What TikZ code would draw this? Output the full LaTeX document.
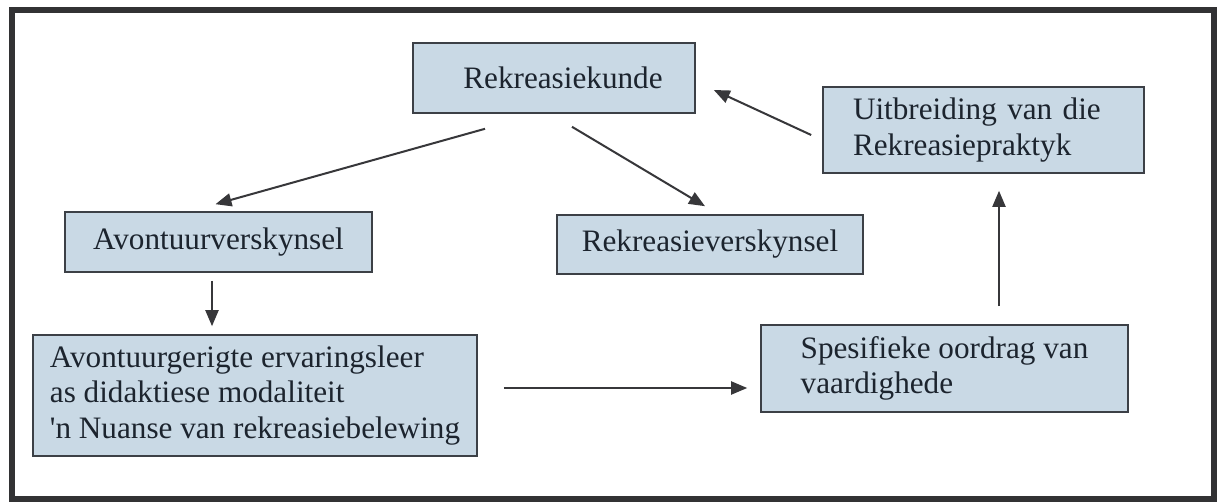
\documentclass[tikz,border=0pt]{standalone}
\usepackage{fontspec}
\setmainfont{Liberation Serif}
\usetikzlibrary{arrows.meta,calc}
\definecolor{boxfill}{RGB}{201,217,229}
\definecolor{boxline}{RGB}{60,64,70}
\definecolor{ink}{RGB}{28,36,46}
\definecolor{arrowcol}{RGB}{55,55,58}
\definecolor{framecol}{RGB}{50,50,52}
\begin{document}
\begin{tikzpicture}[x=0.5pt,y=-0.5pt,
  conceptbox/.style={draw=boxline,line width=0.8pt,fill=boxfill,text=ink,
    inner sep=0pt,align=left,
    font=\fontsize{15.6pt}{17.8pt}\selectfont},
  arr/.style={draw=arrowcol,line width=1pt,-{Triangle[length=8pt,width=6.5pt]}}]
  \useasboundingbox (0,0) rectangle (1220,502);
  \fill[white] (0,0) rectangle (1220,502);
  % outer frame
  \draw[framecol,line width=3pt] (12,10) rectangle (1214,499);

  % concept boxes
  \node[conceptbox,minimum width=141pt,minimum height=35pt] (kunde) at (554,78)
    {\hspace*{9pt}Rekreasiekunde};
  \node[conceptbox,inner xsep=15pt,text width=130.5pt,minimum height=43pt] (uitbr) at (983.5,130)
    {Uitbreiding van die\\Rekreasiepraktyk};
  \node[conceptbox,minimum width=153.5pt,minimum height=30pt] (avv) at (218.5,242)
    {Avontuurverskynsel};
  \node[conceptbox,minimum width=153pt,minimum height=29.5pt] (rekv) at (710,244.5)
    {Rekreasieverskynsel};
  \node[conceptbox,minimum width=222pt,minimum height=60.5pt] (avg) at (255,395.5)
    {Avontuurgerigte ervaringsleer\\as didaktiese modaliteit\\\textquotesingle n Nuanse van rekreasiebelewing};
  \node[conceptbox,minimum width=183.5pt,minimum height=43.5pt] (spes) at (944.5,368.5)
    {Spesifieke oordrag van\\vaardighede};

  % connectors
  \draw[arr] ($(kunde.south)+(-69,15)$) -- ($(avv.north)+(-3,-7)$);
  \draw[arr] ($(kunde.south)+(18,13)$) -- ($(rekv.north)+(-5,-8)$);
  \draw[arr] ($(uitbr.west)+(-11,5)$) -- ($(kunde.east)+(18,12)$);
  \draw[arr] ($(spes.north)+(54.5,-18)$) -- ($(uitbr.south)+(15.5,17)$);
  \draw[arr] ($(avv.south)+(-6.5,8)$) -- ($(avg.north)+(-43,-8)$);
  \draw[arr] ($(avg.east)+(26,-7.5)$) -- ($(spes.west)+(-13,19.5)$);
\end{tikzpicture}
\end{document}
